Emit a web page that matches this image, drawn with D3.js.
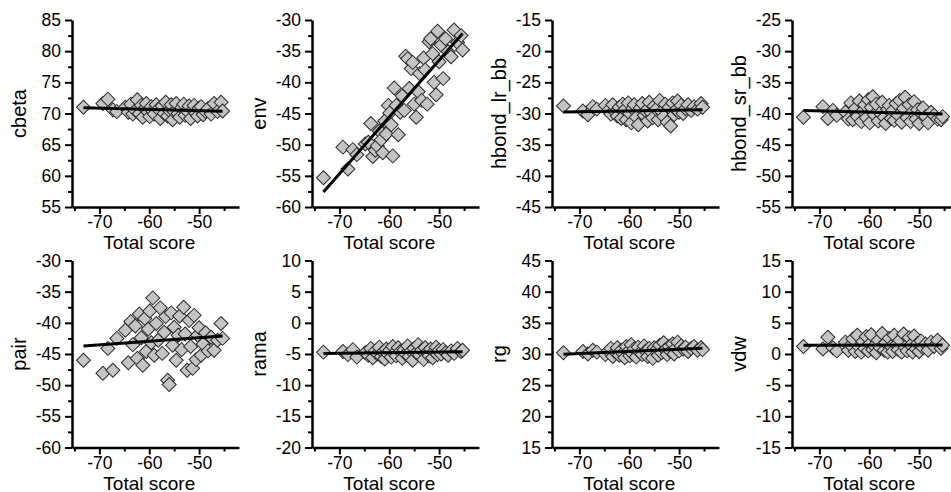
<!DOCTYPE html>
<html>
<head>
<meta charset="utf-8">
<script src="https://cdn.jsdelivr.net/npm/d3@7"></script>
<style>
  body { margin: 0; background: #fff; }
  svg { display: block; }
  text { font-family: Arial, "Liberation Sans", sans-serif; fill: #000; }
</style>
</head>
<body>
<svg id="chart" width="951" height="492"></svg>
<script>
// Total score of each model (shared x values for every panel)
const totalScore = [-73.2, -69.3, -68.3, -67.3, -66.5, -64.8, -64.2, -63.7, -63.3, -62.8,
  -62.4, -62.0, -61.6, -61.3, -60.9, -60.6, -60.2, -59.9, -59.6, -59.3,
  -59.0, -58.6, -58.2, -57.8, -57.4, -57.0, -56.7, -56.3, -56.0, -55.6,
  -55.3, -55.0, -54.6, -54.2, -53.9, -53.5, -53.1, -52.8, -52.4, -52.0,
  -51.7, -51.3, -51.0, -50.6, -50.3, -50.0, -49.6, -49.2, -48.7, -48.2,
  -47.6, -47.0, -46.3, -45.6, -45.3];

// Individual score terms
const cbeta = [71.0, 71.6, 72.3, 70.6, 70.3, 71.0, 70.2, 71.5, 69.9, 70.5,
  72.2, 70.0, 71.3, 69.4, 70.8, 71.6, 70.2, 69.5, 71.1, 70.4,
  69.9, 71.4, 70.7, 69.2, 71.2, 70.0, 71.8, 69.6, 70.5, 71.4,
  69.0, 70.3, 71.6, 70.0, 69.4, 70.9, 71.5, 69.7, 70.4, 71.2,
  69.2, 70.6, 71.3, 70.0, 69.6, 70.9, 71.1, 69.8, 70.3, 70.8,
  69.9, 71.6, 70.3, 71.8, 70.4];

const env = [-55.3, -50.4, -53.9, -50.8, -51.6, -49.9, -49.6, -46.6, -51.9, -50.9,
  -50.2, -47.8, -49.2, -51.3, -46.2, -48.3, -43.7, -44.9, -46.8, -51.8,
  -40.9, -43.7, -48.4, -44.8, -42.2, -44.5, -35.8, -36.2, -41.0, -37.8,
  -36.8, -43.5, -45.6, -41.5, -38.6, -42.9, -36.1, -38.0, -43.5, -33.5,
  -33.0, -35.4, -40.0, -42.0, -31.8, -36.7, -34.0, -39.4, -33.0, -35.1,
  -35.9, -31.6, -33.6, -32.5, -34.8];

const hbondLrBb = [-28.8, -29.6, -30.2, -28.9, -29.3, -28.7, -29.5, -30.1, -28.6, -29.8,
  -30.4, -29.0, -30.8, -28.5, -29.4, -31.0, -28.3, -30.0, -31.5, -29.2,
  -28.6, -30.6, -31.8, -29.1, -28.4, -30.3, -29.6, -31.2, -28.2, -29.9,
  -30.7, -28.8, -29.3, -31.0, -27.9, -29.7, -30.5, -28.5, -31.4, -29.0,
  -32.0, -28.3, -30.2, -29.4, -28.0, -29.8, -28.7, -30.0, -29.2, -28.6,
  -29.5, -28.9, -29.3, -28.4, -29.0];

const hbondSrBb = [-40.6, -38.9, -40.8, -39.5, -40.3, -39.8, -40.9, -38.3, -41.0, -39.2,
  -40.5, -38.0, -41.3, -39.6, -38.6, -40.7, -37.8, -41.5, -39.0, -37.3,
  -40.2, -38.5, -41.2, -39.9, -38.2, -40.6, -41.6, -39.3, -38.7, -40.8,
  -39.5, -41.1, -38.4, -40.3, -37.9, -41.4, -39.2, -37.4, -40.7, -38.6,
  -41.3, -39.7, -38.1, -40.9, -39.4, -41.6, -40.0, -39.1, -40.5, -41.5,
  -39.8, -40.3, -40.9, -41.0, -40.5];

const pair = [-46.0, -48.1, -44.1, -47.6, -42.5, -41.2, -46.4, -39.8, -43.5, -40.5,
  -45.7, -38.6, -42.4, -46.8, -39.3, -44.6, -41.0, -38.1, -43.2, -36.0,
  -45.2, -40.1, -42.8, -37.6, -44.9, -41.5, -39.0, -49.2, -49.9, -38.4,
  -43.6, -40.7, -46.0, -42.0, -38.9, -44.3, -37.5, -41.8, -47.6, -39.6,
  -43.8, -47.3, -38.8, -45.9, -42.0, -40.8, -45.2, -43.4, -41.6, -44.5,
  -42.3, -44.4, -42.8, -40.1, -42.5];

const rama = [-4.7, -4.6, -5.1, -4.3, -5.5, -4.8, -5.2, -4.1, -5.6, -4.5,
  -5.0, -3.9, -5.4, -4.7, -5.8, -4.2, -5.1, -4.4, -5.5, -3.8,
  -4.9, -5.3, -4.0, -4.6, -5.7, -4.3, -5.0, -3.7, -5.4, -4.5,
  -6.0, -4.1, -4.8, -3.5, -5.2, -4.4, -5.9, -4.0, -4.7, -5.3,
  -4.2, -5.6, -4.6, -3.9, -5.1, -4.4, -5.0, -4.3, -4.8, -5.2,
  -4.5, -4.9, -4.1, -4.6, -4.4];

const rg = [30.2, 30.4, 30.0, 30.6, 30.3, 29.9, 30.5, 30.9, 29.6, 30.3,
  31.0, 29.8, 30.6, 30.1, 29.4, 31.2, 30.4, 29.7, 31.5, 30.0,
  30.8, 29.5, 31.1, 30.2, 29.9, 31.3, 30.5, 29.6, 30.9, 30.3,
  29.3, 31.0, 30.6, 29.8, 31.4, 30.2, 31.8, 30.7, 29.9, 31.2,
  30.4, 31.6, 30.0, 31.0, 31.9, 30.5, 31.3, 30.8, 31.1, 30.4,
  30.9, 31.2, 30.6, 31.0, 30.7];

const vdw = [1.2, 0.8, 2.7, 1.0, 0.5, 1.9, 0.6, 1.4, 2.4, 0.4,
  3.0, 1.1, 0.3, 2.0, 0.9, 2.8, 0.5, 1.6, 3.1, 0.7,
  1.3, 0.2, 2.2, 1.0, 3.3, 0.6, 1.8, 0.3, 2.5, 1.2,
  0.4, 3.0, 1.5, 0.7, 2.2, 0.3, 3.2, 1.1, 0.5, 2.6,
  1.4, 0.3, 2.9, 0.8, 1.7, 0.4, 2.1, 1.0, 1.6, 0.6,
  1.9, 1.2, 2.2, 0.9, 1.4];

// Panel names and y ranges
const termNames = ["cbeta", "env", "hbond_lr_bb", "hbond_sr_bb", "pair", "rama", "rg", "vdw"];
const termValues = [cbeta, env, hbondLrBb, hbondSrBb, pair, rama, rg, vdw];
const yRanges = [[55, 85], [-60, -30], [-45, -15], [-55, -25], [-60, -30], [-20, 10], [15, 45], [-15, 15]];

const xDomain = [-75.5, -42];
const xMajor = [-70, -60, -50];
const xMinor = [-75, -65, -55, -45];
const xLabel = "Total score";

// Layout
const originX = 72, originY = 20, stepX = 240, stepY = 240.5;
const plotW = 167, plotH = 187;

const svg = d3.select("#chart");

function fit(xs, ys) {
  const mx = d3.mean(xs), my = d3.mean(ys);
  let sxy = 0, sxx = 0;
  xs.forEach((x, i) => { sxy += (x - mx) * (ys[i] - my); sxx += (x - mx) * (x - mx); });
  const b = sxy / sxx;
  return { b, a: my - b * mx };
}

const diamond = d3.symbol().type(d3.symbolSquare).size(98)();

termNames.forEach((name, k) => {
  const col = k % 4, row = Math.floor(k / 4);
  const g = svg.append("g")
    .attr("transform", `translate(${originX + col * stepX},${originY + row * stepY})`);

  const x = d3.scaleLinear().domain(xDomain).range([0, plotW]);
  const y = d3.scaleLinear().domain(yRanges[k]).range([plotH, 0]);
  const vals = termValues[k];

  // scatter points
  g.append("g").selectAll("path")
    .data(totalScore.map((t, i) => [t, vals[i]]))
    .join("path")
    .attr("d", diamond)
    .attr("transform", d => `translate(${x(d[0])},${y(d[1])}) rotate(45)`)
    .attr("fill", "#c4c4c4")
    .attr("stroke", "#2a2a2a")
    .attr("stroke-width", 1);

  // linear fit
  const f = fit(totalScore, vals);
  const xe = d3.extent(totalScore);
  g.append("line")
    .attr("x1", x(xe[0])).attr("y1", y(f.a + f.b * xe[0]))
    .attr("x2", x(xe[1])).attr("y2", y(f.a + f.b * xe[1]))
    .attr("stroke", "#000").attr("stroke-width", 3);

  // y axis
  const [y0, y1] = yRanges[k];
  const yMajor = d3.range(y0, y1 + 0.1, 5);
  const yMinor = d3.range(y0 + 2.5, y1, 5);
  const ya = g.append("g")
    .call(d3.axisLeft(y).tickValues(yMajor).tickSize(7).tickSizeOuter(0).tickPadding(4)
      .tickFormat(d => String(d)));
  const ym = g.append("g")
    .call(d3.axisLeft(y).tickValues(yMinor).tickSize(4).tickSizeOuter(0).tickFormat(""));
  ym.select(".domain").remove();

  // x axis
  const xa = g.append("g").attr("transform", `translate(0,${plotH})`)
    .call(d3.axisBottom(x).tickValues(xMajor).tickSize(7).tickSizeOuter(0).tickPadding(2)
      .tickFormat(d => String(d)));
  const xm = g.append("g").attr("transform", `translate(0,${plotH})`)
    .call(d3.axisBottom(x).tickValues(xMinor).tickSize(4).tickSizeOuter(0).tickFormat(""));
  xm.select(".domain").remove();

  [ya, ym, xa, xm].forEach(a => {
    a.selectAll(".domain").attr("stroke", "#000").attr("stroke-width", 2.5);
    a.selectAll(".tick line").attr("stroke", "#000").attr("stroke-width", 2);
    a.selectAll(".tick text").attr("font-size", 17.5).attr("font-family", "Arial, 'Liberation Sans', sans-serif");
  });

  // axis titles
  g.append("text")
    .attr("x", (x(-70) + x(-50)) / 2)
    .attr("y", plotH + 42)
    .attr("text-anchor", "middle")
    .attr("font-size", 19)
    .text(xLabel);

  g.append("text")
    .attr("transform", `translate(-46,${plotH / 2}) rotate(-90)`)
    .attr("text-anchor", "middle")
    .attr("font-size", 20)
    .text(name);
});
</script>
</body>
</html>
